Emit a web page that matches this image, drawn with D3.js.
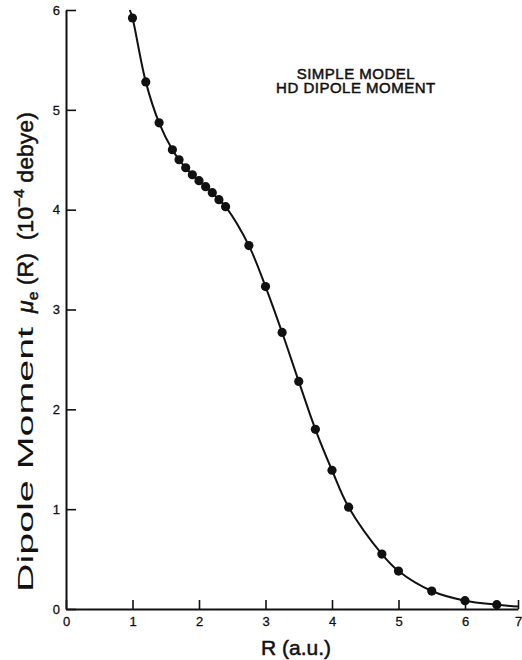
<!DOCTYPE html>
<html>
<head>
<meta charset="utf-8">
<script src="https://cdn.jsdelivr.net/npm/d3@7"></script>
<style>
  body { margin: 0; background: #fff; }
  svg text { font-family: "Liberation Sans", Arial, sans-serif; fill: #111; }
  .heavy { stroke: #111; stroke-width: 0.5px; }
</style>
</head>
<body>
<svg width="522" height="660"></svg>
<script>
      // computed points
      const rValues = [1.0, 1.2, 1.4, 1.6, 1.7, 1.8, 1.9, 2.0, 2.1, 2.2, 2.3, 2.4,
                       2.75, 3.0, 3.25, 3.5, 3.75, 4.0, 4.25, 4.75, 5.0, 5.5, 6.0, 6.6];
      const muValues = [5.92, 5.28, 4.87, 4.60, 4.50, 4.42, 4.35, 4.29, 4.23, 4.17, 4.10, 4.03,
                        3.64, 3.23, 2.77, 2.28, 1.80, 1.39, 1.02, 0.55, 0.38, 0.18, 0.083, 0.043];
      // the drawn curve runs a little past the points at both ends
      const curveStart = [0.96, 6.0];
      const curveEnd = [7.0, 0.025];
      const xTickValues = [0, 1, 2, 3, 4, 5, 6, 7];
      const yTickValues = [0, 1, 2, 3, 4, 5, 6];
      const xLabel = 'R (a.u.)';
      const noteLines = ['SIMPLE MODEL', 'HD DIPOLE MOMENT'];

      const margin = { left: 66, right: 4, top: 10, bottom: 51 };

      const svg = d3.select('svg');
      const width = +svg.attr('width');
      const height = +svg.attr('height');
      const innerWidth = width - margin.left - margin.right;
      const innerHeight = height - margin.top - margin.bottom;

      const g = svg.append('g')
          .attr('transform', `translate(${margin.left},${margin.top})`);

      // last unit on the original x axis is drawn shorter than the others
      const xScale = d3.scaleLinear()
        .domain([0, 6, 7])
        .range([0, innerWidth * 399 / 452, innerWidth]);
      const yScale = d3.scaleLinear()
        .domain([0, 6])
        .range([innerHeight, 0]);

      const points = rValues.map((r, i) => [r, muValues[i]]);
      const curvePoints = [curveStart, ...points, curveEnd];

      const line = d3.line()
        .x(d => xScale(d[0]))
        .y(d => yScale(d[1]))
        .curve(d3.curveCatmullRom.alpha(0.5));

      g.append('path')
        .datum(curvePoints)
        .attr('d', line)
        .attr('fill', 'none')
        .attr('stroke', '#111')
        .attr('stroke-width', 2);

      g.selectAll('circle').data(points)
        .enter().append('circle')
          .attr('cx', d => xScale(d[0]))
          .attr('cy', d => yScale(d[1]))
          .attr('r', 4.6)
          .attr('fill', '#111');

      const xAxis = d3.axisBottom(xScale)
        .tickValues(xTickValues)
        .tickFormat(d3.format('d'))
        .tickSize(-9)
        .tickSizeOuter(0)
        .tickPadding(8);

      const yAxis = d3.axisLeft(yScale)
        .tickValues(yTickValues)
        .tickFormat(d3.format('d'))
        .tickSize(-10)
        .tickSizeOuter(0)
        .tickPadding(6);

      const xAxisG = g.append('g')
        .attr('transform', `translate(0,${innerHeight})`)
        .call(xAxis);
      const yAxisG = g.append('g').call(yAxis);

      [xAxisG, yAxisG].forEach(a => {
        a.select('.domain').attr('stroke', '#111').attr('stroke-width', 2);
        a.selectAll('.tick line').attr('stroke', '#111').attr('stroke-width', 1.6);
        a.selectAll('.tick text')
          .attr('font-size', 13)
          .attr('fill', '#111')
          .attr('stroke', '#111')
          .attr('stroke-width', 0.3)
          .style('font-family', '"Liberation Sans", Arial, sans-serif');
      });

      svg.append('text')
        .attr('class', 'heavy')
        .attr('x', 296)
        .attr('y', 655)
        .attr('text-anchor', 'middle')
        .attr('font-size', 21)
        .text(xLabel);

      // y label: first words are set wider than the units part
      svg.append('text')
        .attr('transform', 'translate(33,592) rotate(-90)')
        .attr('font-size', 22)
        .attr('textLength', 265)
        .attr('lengthAdjust', 'spacingAndGlyphs')
        .text('Dipole Moment');

      const unitLabel = svg.append('text')
        .attr('class', 'heavy')
        .attr('font-size', 22)
        .style('white-space', 'pre');
      unitLabel.append('tspan').attr('font-style', 'italic').text('\u03bc');
      unitLabel.append('tspan').attr('font-size', 15).attr('dy', 5).text('e');
      unitLabel.append('tspan').attr('dy', -5).text(' (R)  (10');
      unitLabel.append('tspan').attr('font-size', 15).attr('dy', -9).text('\u22124');
      unitLabel.append('tspan').attr('dy', 9).text(' debye)');
      const unitW = unitLabel.node().getComputedTextLength();
      unitLabel.attr('transform', `translate(33,313) rotate(-90) scale(${201 / unitW},1)`);

      g.append('g').selectAll('text').data(noteLines)
        .enter().append('text')
          .attr('class', 'heavy')
          .attr('x', xScale(4.36))
          .attr('y', (d, i) => yScale(5.31) + i * 14)
          .attr('text-anchor', 'middle')
          .attr('font-size', 15)
          .attr('letter-spacing', 0.5)
          .text(d => d);
</script>
</body>
</html>
